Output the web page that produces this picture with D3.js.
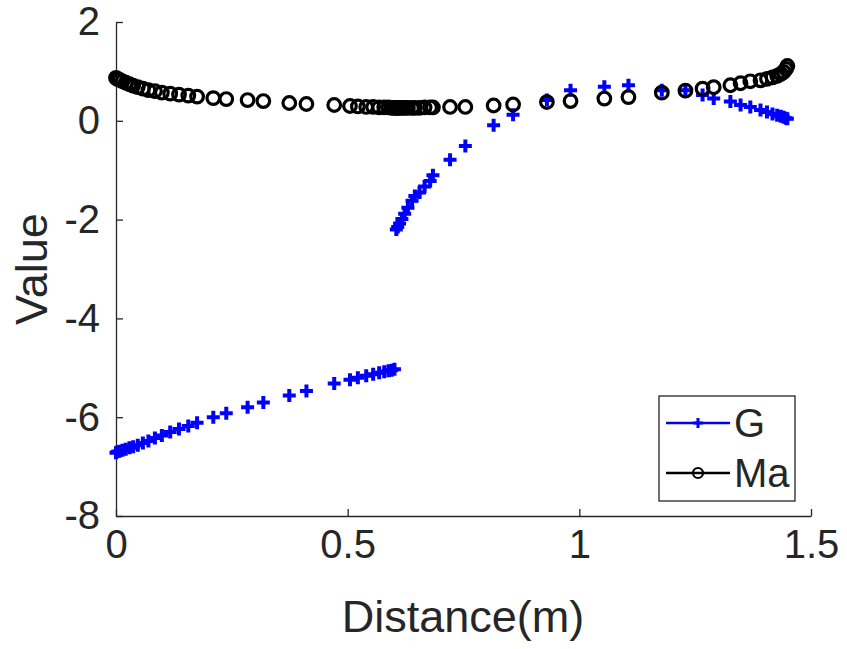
<!DOCTYPE html>
<html>
<head>
<meta charset="utf-8">
<script src="https://cdn.jsdelivr.net/npm/d3@7"></script>
<style>
	body { margin: 0; background: #fff; }
	text { font-family: "Liberation Sans", Arial, sans-serif; fill: #262626; }
</style>
</head>
<body>
<div class="chart"></div>
<script>
// distance along the line (m), shared by both series
var distance = [
	0, 0.003, 0.008, 0.014, 0.021, 0.029, 0.037, 0.047, 0.058, 0.070, 0.084, 0.099,
	0.117, 0.136, 0.156, 0.175, 0.210, 0.238, 0.284, 0.318, 0.374, 0.411, 0.471, 0.505,
	0.522, 0.540, 0.555, 0.568, 0.579, 0.588, 0.595, 0.601,
	0.605, 0.608, 0.612, 0.617, 0.623, 0.630, 0.639, 0.645, 0.655, 0.666, 0.678, 0.684,
	0.721, 0.754, 0.815, 0.857, 0.930, 0.981, 1.054, 1.106, 1.178, 1.229, 1.266, 1.290,
	1.326, 1.348, 1.369, 1.391, 1.405, 1.417, 1.427, 1.435, 1.441, 1.446, 1.449
];

var gValues = [
	-6.72, -6.70, -6.69, -6.67, -6.65, -6.62, -6.60, -6.57, -6.52, -6.48, -6.42, -6.37,
	-6.30, -6.24, -6.18, -6.11, -6.00, -5.92, -5.80, -5.70, -5.56, -5.47, -5.32, -5.24,
	-5.20, -5.16, -5.13, -5.10, -5.08, -5.06, -5.05, -5.03,
	-2.20, -2.15, -2.08, -1.99, -1.88, -1.76, -1.62, -1.52, -1.45, -1.33, -1.22, -1.10,
	-0.79, -0.51, -0.09, 0.12, 0.42, 0.62, 0.69, 0.72, 0.62, 0.62, 0.52, 0.45,
	0.39, 0.32, 0.28, 0.22, 0.18, 0.14, 0.11, 0.09, 0.07, 0.05, 0.04
];

var maValues = [
	0.87, 0.85, 0.83, 0.80, 0.77, 0.74, 0.71, 0.68, 0.65, 0.62, 0.60, 0.57,
	0.55, 0.53, 0.51, 0.49, 0.46, 0.44, 0.42, 0.40, 0.36, 0.34, 0.32, 0.30,
	0.29, 0.28, 0.28, 0.27, 0.27, 0.27, 0.26, 0.26,
	0.26, 0.26, 0.26, 0.26, 0.26, 0.26, 0.26, 0.26, 0.26, 0.27, 0.27, 0.27,
	0.28, 0.28, 0.31, 0.33, 0.38, 0.40, 0.45, 0.48, 0.57, 0.61, 0.65, 0.68,
	0.72, 0.76, 0.80, 0.82, 0.85, 0.88, 0.91, 0.95, 0.99, 1.05, 1.11
];

var xTicks = [0, 0.5, 1, 1.5];
var yTicks = [-8, -6, -4, -2, 0, 2];
var seriesNames = ["G", "Ma"];

var width = 847;
var height = 649;

var svg = d3.select(".chart")
	.append("svg")
	.attr("width", width)
	.attr("height", height);

var x = d3.scaleLinear().domain([0, 1.5]).range([116, 811]);
var y = d3.scaleLinear().domain([-8, 2]).range([516, 22]);

// plain hyphen for negatives, like the original figure
var plain = function(d) { return String(d); };

// axes, ticks pointing inward
svg.append("g")
	.attr("transform", "translate(0,516)")
	.call(d3.axisBottom(x).tickValues(xTicks).tickFormat(plain).tickSizeInner(-7).tickSizeOuter(0).tickPadding(14));

svg.append("g")
	.attr("transform", "translate(116,0)")
	.call(d3.axisLeft(y).tickValues(yTicks).tickFormat(plain).tickSizeInner(-7).tickSizeOuter(0).tickPadding(16));

svg.selectAll(".domain, .tick line")
	.attr("stroke", "#262626")
	.attr("stroke-width", 1.3);

svg.selectAll(".tick text")
	.attr("font-size", 40)
	.attr("font-family", "'Liberation Sans', Arial, sans-serif")
	.attr("fill", "#262626");

svg.append("text")
	.attr("x", 463)
	.attr("y", 632)
	.attr("text-anchor", "middle")
	.attr("font-size", 45)
	.text("Distance(m)");

svg.append("text")
	.attr("transform", "translate(47,269) rotate(-90)")
	.attr("text-anchor", "middle")
	.attr("font-size", 45)
	.text("Value");

var plusPath = "M-6.5,0H6.5M0,-6.5V6.5";

// G series (blue plus markers)
svg.append("g")
	.selectAll("path")
	.data(d3.range(distance.length))
	.enter()
	.append("path")
	.attr("d", plusPath)
	.attr("transform", function(i) { return "translate(" + x(distance[i]) + "," + y(gValues[i]) + ")"; })
	.attr("stroke", "#0000ff")
	.attr("stroke-width", 4)
	.attr("fill", "none");

// Ma series (black open circles)
svg.append("g")
	.selectAll("circle")
	.data(d3.range(distance.length))
	.enter()
	.append("circle")
	.attr("cx", function(i) { return x(distance[i]); })
	.attr("cy", function(i) { return y(maValues[i]); })
	.attr("r", 6.3)
	.attr("stroke", "#000")
	.attr("stroke-width", 3.2)
	.attr("fill", "none");

// legend
var legend = svg.append("g");

legend.append("rect")
	.attr("x", 659)
	.attr("y", 396)
	.attr("width", 136)
	.attr("height", 105)
	.attr("fill", "#fff")
	.attr("stroke", "#262626")
	.attr("stroke-width", 1.3);

var rows = legend.selectAll(".row")
	.data(seriesNames)
	.enter()
	.append("g")
	.attr("class", "row")
	.attr("transform", function(d, i) { return "translate(0," + (423 + i * 50) + ")"; });

rows.append("line")
	.attr("x1", 666)
	.attr("x2", 730)
	.attr("stroke", function(d, i) { return i === 0 ? "#0000ff" : "#000"; })
	.attr("stroke-width", 2.5);

rows.filter(function(d, i) { return i === 0; })
	.append("path")
	.attr("d", "M-5,0H5M0,-5V5")
	.attr("transform", "translate(698,0)")
	.attr("stroke", "#0000ff")
	.attr("stroke-width", 3);

rows.filter(function(d, i) { return i === 1; })
	.append("circle")
	.attr("cx", 698)
	.attr("r", 5)
	.attr("fill", "none")
	.attr("stroke", "#000")
	.attr("stroke-width", 2.2);

rows.append("text")
	.attr("x", 734)
	.attr("y", 14)
	.attr("font-size", 40)
	.text(function(d) { return d; });
</script>
</body>
</html>
